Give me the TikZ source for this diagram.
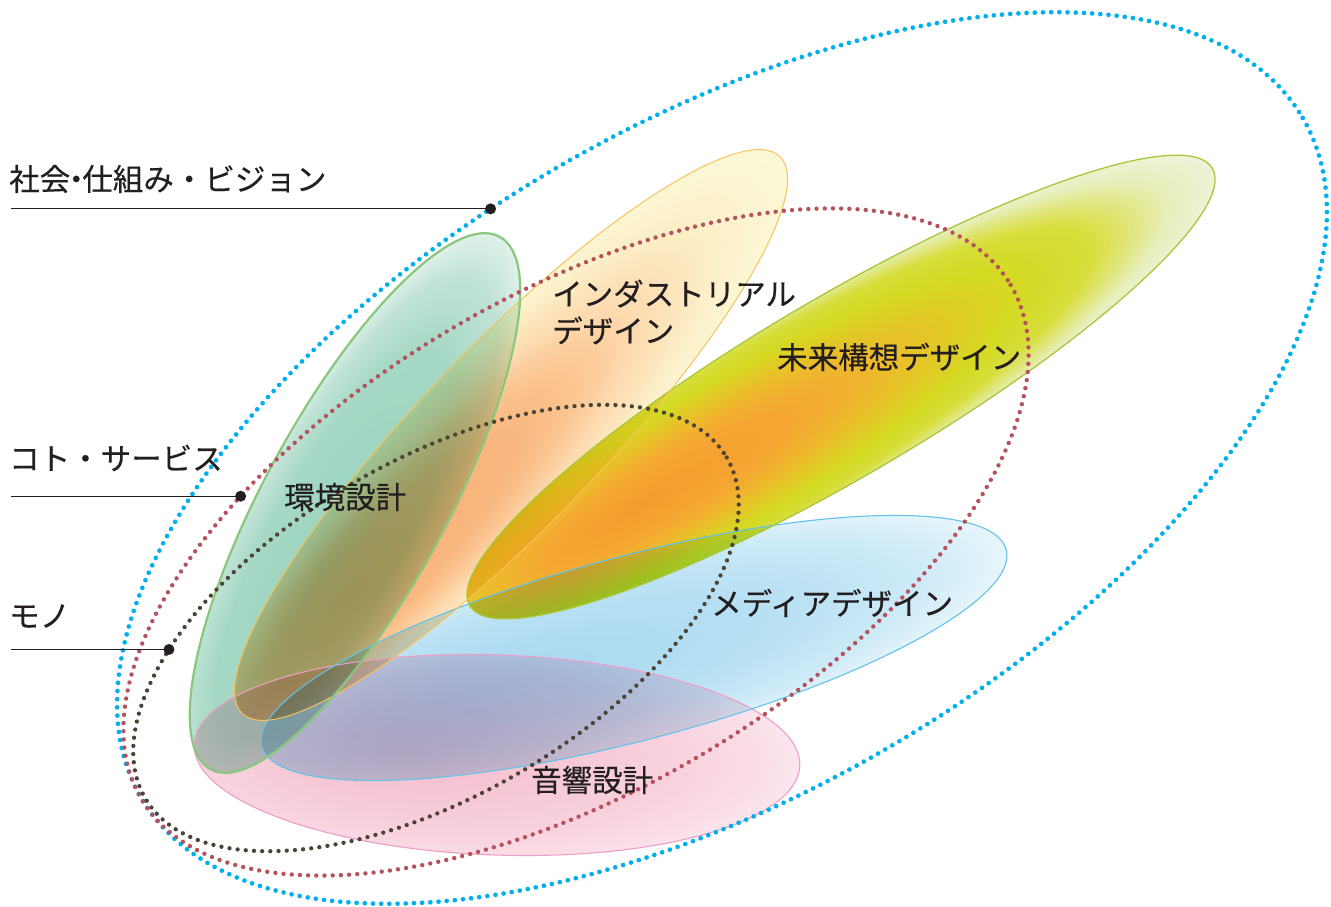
\documentclass[tikz,border=0pt]{standalone}
\usepackage{fontspec}
\newfontfamily\jp[FakeBold=0.35]{Noto Sans CJK JP}
\definecolor{cText}{HTML}{231F20}
\definecolor{cDotBlue}{HTML}{00B0EC}
\definecolor{cDotRed}{HTML}{B5525C}
\definecolor{cDotBlack}{HTML}{4C4335}
\definecolor{cLineGreen}{HTML}{8AC77E}
\definecolor{cLineOrange}{HTML}{F9C35A}
\definecolor{cLineYG}{HTML}{A9C73A}
\definecolor{cLineMedia}{HTML}{62C2EA}
\definecolor{cLinePink}{HTML}{EE9EC4}
% green
\definecolor{g0}{HTML}{98D3BD}\definecolor{g1}{HTML}{A6D9C5}\definecolor{g2}{HTML}{C0E3D5}\definecolor{g3}{HTML}{E3F3EC}
% orange
\definecolor{o0}{HTML}{F8AE70}\definecolor{o1}{HTML}{F9B880}\definecolor{o2}{HTML}{FBC591}\definecolor{o3}{HTML}{FDD9AE}\definecolor{o4}{HTML}{FCEFC8}\definecolor{o5}{HTML}{FBF8D6}
% yellow-green
\definecolor{y0}{HTML}{F39C2E}\definecolor{y1}{HTML}{F5A632}\definecolor{y2}{HTML}{F0B62E}\definecolor{y3}{HTML}{E2C826}\definecolor{y4}{HTML}{D4DA22}\definecolor{y5}{HTML}{D8DE3C}\definecolor{y6}{HTML}{E8EEBC}\definecolor{y7}{HTML}{F0F4E0}
% media
\definecolor{m0}{HTML}{A8D8F0}\definecolor{m1}{HTML}{B0DCF2}\definecolor{m2}{HTML}{BCE2F4}\definecolor{m3}{HTML}{CCEAF7}\definecolor{m4}{HTML}{E6F5FB}
% pink
\definecolor{p0}{HTML}{F4BCCB}\definecolor{p1}{HTML}{F6C6D4}\definecolor{p2}{HTML}{F8D2DE}\definecolor{p3}{HTML}{FADCE6}\definecolor{p4}{HTML}{FCE8F0}

\pgfdeclareradialshading{shgreen}{\pgfpoint{-6bp}{0bp}}{color(0bp)=(g0); color(18bp)=(g1); color(24bp)=(g2); color(28bp)=(g3); color(50bp)=(g3)}
\pgfdeclareradialshading{shorange}{\pgfpoint{-14bp}{0bp}}{color(0bp)=(o0); color(11bp)=(o1); color(15bp)=(o2); color(19bp)=(o3); color(25bp)=(o4); color(30bp)=(o5); color(50bp)=(o5)}
\pgfdeclareradialshading{shyg}{\pgfpoint{-14bp}{0bp}}{color(0bp)=(y0); color(8bp)=(y1); color(12bp)=(y2); color(16bp)=(y3); color(20bp)=(y4); color(24bp)=(y5); color(28bp)=(y6); color(31bp)=(y7); color(50bp)=(y7)}
\pgfdeclareradialshading{shmedia}{\pgfpoint{-10bp}{0bp}}{color(0bp)=(m0); color(10bp)=(m1); color(18bp)=(m2); color(24bp)=(m3); color(29bp)=(m4); color(50bp)=(m4)}
\pgfdeclareradialshading{shpink}{\pgfpoint{-8bp}{0bp}}{color(0bp)=(p0); color(10bp)=(p1); color(20bp)=(p2); color(25bp)=(p3); color(29bp)=(p4); color(50bp)=(p4)}

\tikzset{
  blobfill/.style={blend mode=multiply},
  dotline/.style={line width=#1, dash pattern=on 0pt off 8.2pt, line cap=round},
  leader/.style={draw=cText, line width=1.3pt},
  dotnode/.style={circle, fill=cText, inner sep=0pt, minimum size=11pt},
  lbl/.style={inner sep=0pt, text=cText, anchor=west},
}

\begin{document}
\begin{tikzpicture}[x=1pt,y=-1pt,font=\jp\fontsize{30.5}{37}\selectfont]
\useasboundingbox (0,0) rectangle (1331,907);
\fill[white] (0,0) rectangle (1331,907);

% ---- coloured fields ----
\begin{scope}[transform canvas={shift={(497,755)},rotate=-2}]
  \shade[shading=shpink, blobfill] (0,0) ellipse (303 and 100);
\end{scope}
\begin{scope}[transform canvas={shift={(634,648)},rotate=14.8}]
  \shade[shading=shmedia, blobfill] (0,0) ellipse (385 and 92);
\end{scope}
\begin{scope}[transform canvas={shift={(841,387)},rotate=30.5}]
  \shade[shading=shyg, blobfill] (0,0) ellipse (431 and 89);
\end{scope}
\begin{scope}[transform canvas={shift={(511,435)},rotate=46}]
  \shade[shading=shorange, blobfill] (0,0) ellipse (387 and 90);
\end{scope}
\begin{scope}[transform canvas={shift={(355,503)},rotate=61.5}]
  \shade[shading=shgreen, blobfill] (0,0) ellipse (303 and 91);
\end{scope}

% ---- outlines ----
\draw[cLinePink, line width=1.1pt, shift={(497,755)}, rotate=-2] (0,0) ellipse (303 and 100);
\draw[cLineMedia, line width=1.1pt, shift={(634,648)}, rotate=14.8] (0,0) ellipse (385 and 92);
\draw[cLineYG, line width=1.3pt, shift={(841,387)}, rotate=30.5] (0,0) ellipse (431 and 89);
\draw[cLineOrange, line width=1pt, shift={(511,435)}, rotate=46] (0,0) ellipse (387 and 90);
\draw[cLineGreen, line width=2.2pt, shift={(355,503)}, rotate=61.5] (0,0) ellipse (303 and 91);

% ---- dotted scopes ----
\draw[cDotBlue, dotline=4.7pt, shift={(722,458)}, rotate=30.35] (0,0) ellipse (673 and 334);
\draw[cDotRed, dotline=4.4pt, shift={(576,542)}, rotate=30.6] (0,0) ellipse (505 and 247);
\draw[cDotBlack, dotline=4.3pt, shift={(436,628)}, rotate=30.4] (0,0) ellipse (337 and 167);

% ---- leader lines ----
\coordinate (xl) at (11,0);
\path[shift={(722,458)}, rotate=30.35] (263.7:673 and 334) node[dotnode] (dS) {};
\path[shift={(576,542)}, rotate=30.6] (238.3:505 and 247) node[dotnode] (dK) {};
\path[shift={(436,628)}, rotate=30.4] (224.3:337 and 167) node[dotnode] (dM) {};
\draw[leader] (xl |- dS.center) -- (dS.center);
\draw[leader] (xl |- dK.center) -- (dK.center);
\draw[leader] (xl |- dM.center) -- (dM.center);

% ---- labels ----
\node[lbl] (tS) at (9,179) {社会\kern-.3em・\kern-.3em仕組み・ビジョン};
\node[lbl] (tK) at (9,458) {コト・サービス};
\node[lbl] (tM) at (9,616) {モノ};
\node[lbl, align=left] (tInd) at (552,312) {インダストリアル\\デザイン};
\node[lbl] (tMirai) at (777,357) {未来構想デザイン};
\node[lbl] (tKan) at (284,497) {環境設計};
\node[lbl] (tMed) at (711,603) {メディアデザイン};
\node[lbl] (tOn) at (531,780) {音響設計};
\end{tikzpicture}
\end{document}
